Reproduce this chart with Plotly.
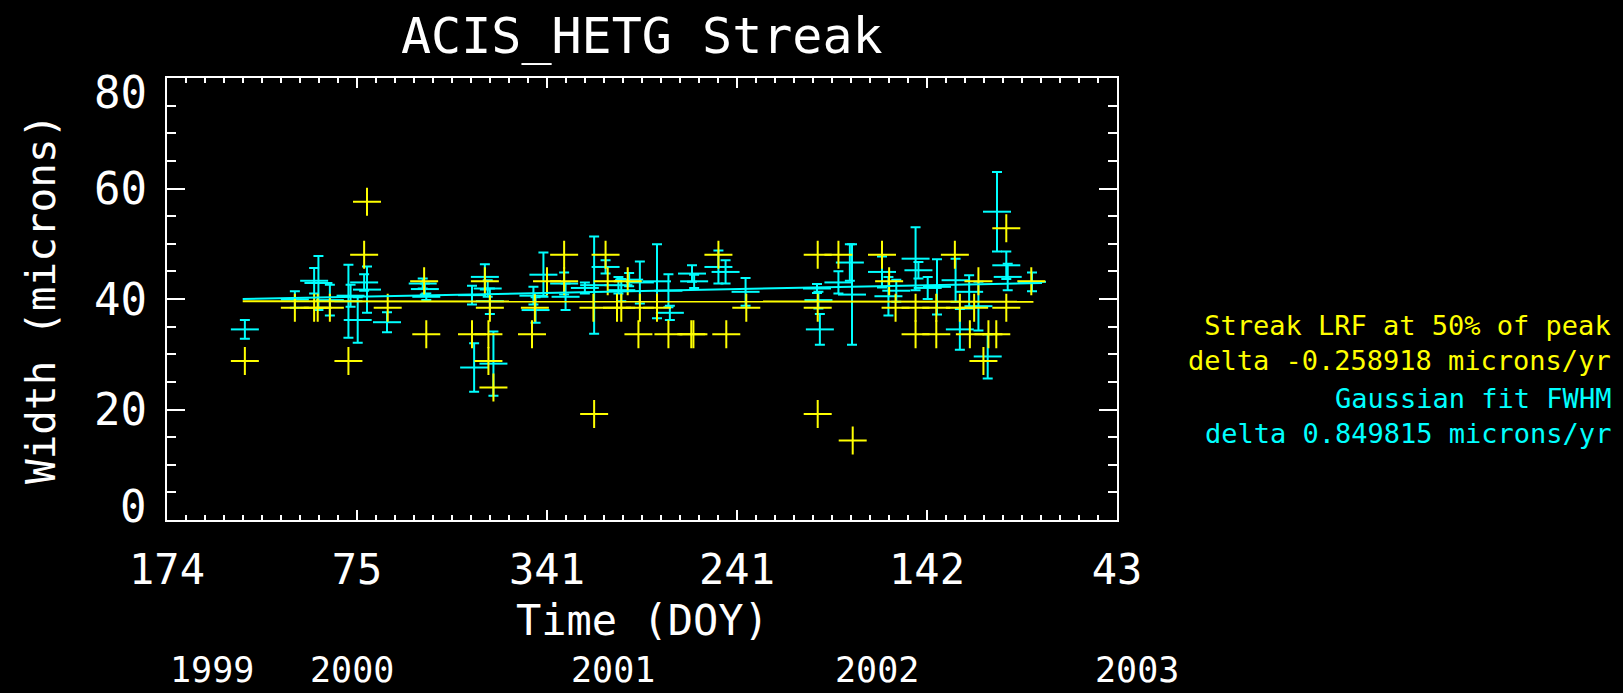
import plotly.graph_objects as go

# ---------------- data ----------------
chart_title = "ACIS_HETG Streak"
x_title = "Time (DOY)"
y_title = "Width (microns)"

# x axis: days elapsed since 1999 DOY 174
doy_tick_days = [0, 266, 532, 798, 1064, 1330]
doy_tick_labels = ["174", "75", "341", "241", "142", "43"]
year_labels = ["1999", "2000", "2001", "2002", "2003"]
year_label_days = [63, 259, 624, 994, 1358]

y_tick_vals = [0, 20, 40, 60, 80]
y_tick_labels = ["0", "20", "40", "60", "80"]

# Streak LRF at 50% of peak (yellow crosses)
lrf_days = [109, 179, 206, 211, 228, 254, 276, 280, 309, 360, 363, 427, 445, 450,
            450, 452, 457, 511, 515, 532, 556, 556, 597, 598, 614, 617, 630, 636,
            645, 660, 662, 686, 702, 734, 737, 772, 783, 811, 911, 911, 911, 940,
            960, 1001, 1011, 1020, 1048, 1048, 1077, 1077, 1103, 1110, 1124, 1130,
            1136, 1143, 1150, 1161, 1175, 1175, 1210]
lrf_width = [28.8, 38.4, 38.4, 38.4, 38.4, 28.8, 48.0, 57.6, 38.4, 43.2, 33.6, 33.6, 43.2, 33.6,
             28.8, 38.4, 24.0, 33.6, 38.4, 43.2, 48.0, 43.2, 38.4, 19.2, 48.0, 43.2, 38.4, 38.4,
             43.2, 33.6, 38.4, 38.4, 33.6, 33.6, 33.6, 48.0, 33.6, 38.4, 48.0, 38.4, 19.2, 48.0,
             14.4, 48.0, 43.2, 38.4, 38.4, 33.6, 38.4, 33.6, 48.0, 38.4, 33.6, 38.4,
             43.2, 28.8, 33.6, 33.6, 52.8, 38.4, 43.2]

# Gaussian fit FWHM (cyan, with error bars)
fwhm_days = [109, 179, 206, 212, 228, 254, 257, 267, 276, 280, 308, 358, 361, 363,
             427, 430, 445, 449, 452, 457, 513, 516, 527, 556, 558, 585, 598, 614,
             632, 636, 647, 662, 686, 702, 704, 735, 738, 772, 782, 810, 910, 912,
             914, 940, 956, 959, 1001, 1010, 1021, 1048, 1052, 1065, 1078, 1104, 1110,
             1123, 1136, 1149, 1162, 1175, 1177, 1211]
fwhm_width = [34.5, 39.9, 43.3, 42.9, 39.8, 39.6, 40.6, 36.2, 43.0, 41.7, 35.8, 42.8, 41.8, 40.4,
              40.7, 27.6, 44.0, 41.9, 39.6, 28.3, 40.6, 38.0, 44.4, 42.8, 40.4, 42.0, 42.5, 45.8,
              42.5, 41.6, 43.5, 43.0, 43.2, 41.5, 37.5, 44.6, 43.2, 45.8, 44.9, 41.3, 41.9, 39.8,
              34.5, 43.0, 46.6, 40.8, 44.9, 40.5, 41.5, 47.3, 45.2, 42.0, 42.2, 43.4, 34.5,
              41.3, 38.7, 29.6, 55.8, 46.1, 44.0, 43.1]
fwhm_err = [1.7, 1.5, 2.3, 4.9, 2.8, 6.6, 2.0, 4.1, 1.5, 4.2, 1.8, 0.9, 1.0, 0.6,
            1.7, 4.4, 2.3, 1.5, 2.3, 5.8, 1.6, 2.3, 4.0, 2.0, 2.4, 1.0, 8.8, 1.2,
            1.5, 2.0, 1.2, 3.8, 6.7, 3.0, 1.3, 1.5, 1.2, 3.0, 2.1, 2.5, 0.8, 1.5,
            2.8, 2.0, 3.3, 9.1, 2.8, 3.5, 2.0, 5.7, 1.5, 2.0, 5.0, 3.9, 3.7,
            3.0, 4.4, 4.0, 7.2, 2.5, 2.4, 1.7]

# linear fits
lrf_fit_days = [106, 1213]
lrf_fit_width = [39.6, 39.5]
fwhm_fit_days = [106, 1225]
fwhm_fit_width = [40.0, 42.9]

lrf_legend = ["Streak LRF at 50% of peak", "delta -0.258918 microns/yr"]
fwhm_legend = ["Gaussian fit FWHM", "delta 0.849815 microns/yr"]

# ---------------- style ----------------
YEL = "#FFFF00"
CYA = "#00FFFF"
WHITE = "#FFFFFF"
FONT = "DejaVu Sans Mono"

W, H = 1623, 693
L, R, T, B = 167, 1117, 78, 520
X_MAX = doy_tick_days[-1]

fig = go.Figure()

fig.add_trace(go.Scatter(
    x=fwhm_days, y=fwhm_width, mode="markers",
    marker=dict(symbol="line-ew", size=20, line=dict(color=CYA, width=2), color=CYA),
    error_y=dict(type="data", array=fwhm_err, color=CYA, thickness=2, width=5),
    showlegend=False, hoverinfo="skip"))

fig.add_trace(go.Scatter(
    x=lrf_days, y=lrf_width, mode="markers",
    marker=dict(symbol="cross-thin", size=20, line=dict(color=YEL, width=2), color=YEL),
    showlegend=False, hoverinfo="skip"))

fig.add_trace(go.Scatter(x=lrf_fit_days, y=lrf_fit_width, mode="lines",
                         line=dict(color=YEL, width=2), showlegend=False, hoverinfo="skip"))
fig.add_trace(go.Scatter(x=fwhm_fit_days, y=fwhm_fit_width, mode="lines",
                         line=dict(color=CYA, width=2), showlegend=False, hoverinfo="skip"))

axis_common = dict(showgrid=False, zeroline=False, showline=True, linecolor=WHITE,
                   linewidth=2, mirror="allticks", ticks="inside", tickcolor=WHITE,
                   tickwidth=2)

fig.update_xaxes(range=[0, X_MAX], tickmode="array", tickvals=doy_tick_days,
                 ticktext=doy_tick_labels, ticklen=10, ticklabelstandoff=12,
                 tickfont=dict(family=FONT, size=42, color=WHITE),
                 minor=dict(dtick=26.6, tick0=0, ticklen=5, ticks="inside",
                            tickcolor=WHITE, tickwidth=2, showgrid=False),
                 **axis_common)
fig.update_yaxes(range=[0, 80], tickmode="array", tickvals=y_tick_vals,
                 ticktext=y_tick_labels, showticklabels=False, ticklen=18,
                 minor=dict(dtick=5, tick0=0, ticklen=9, ticks="inside",
                            tickcolor=WHITE, tickwidth=2, showgrid=False),
                 **axis_common)

def px(xp):
    return (xp - L) / (R - L)

def py(yp):
    return (B - yp) / (B - T)

ann = []
ann.append(dict(text=chart_title, x=0.5, y=py(36), xref="paper", yref="paper",
                xanchor="center", yanchor="middle", showarrow=False,
                font=dict(family=FONT, size=50, color=WHITE)))
ann.append(dict(text=x_title, x=0.5, y=py(620), xref="paper", yref="paper",
                xanchor="center", yanchor="middle", showarrow=False,
                font=dict(family=FONT, size=42, color=WHITE)))
ann.append(dict(text=y_title, x=px(41), y=0.5, xref="paper", yref="paper",
                xanchor="center", yanchor="middle", showarrow=False, textangle=-90,
                font=dict(family=FONT, size=41, color=WHITE)))
# y tick labels (IDL style: end labels nudged inward)
n_y = len(y_tick_vals)
for i, (v, lab) in enumerate(zip(y_tick_vals, y_tick_labels)):
    shift = 0
    if i == 0:
        shift = 14
    elif i == n_y - 1:
        shift = -14
    ann.append(dict(text=lab, x=px(149), y=v, xref="paper", yref="y",
                    xanchor="right", yanchor="middle", showarrow=False, yshift=shift,
                    font=dict(family=FONT, size=44, color=WHITE)))
for lab, d in zip(year_labels, year_label_days):
    ann.append(dict(text=lab, x=d / X_MAX, y=py(670), xref="paper", yref="paper",
                    xanchor="center", yanchor="middle", showarrow=False,
                    font=dict(family=FONT, size=35, color=WHITE)))
ann.append(dict(text="<br>".join(lrf_legend), x=px(1613), y=py(343), xref="paper",
                yref="paper", xanchor="right", yanchor="middle", align="right",
                showarrow=False, font=dict(family=FONT, size=27, color=YEL)))
ann.append(dict(text="<br>".join(fwhm_legend), x=px(1613), y=py(416), xref="paper",
                yref="paper", xanchor="right", yanchor="middle", align="right",
                showarrow=False, font=dict(family=FONT, size=27, color=CYA)))

fig.update_layout(width=W, height=H, paper_bgcolor="black", plot_bgcolor="black",
                  margin=dict(l=L, r=W - R, t=T, b=H - B, pad=0),
                  annotations=ann, showlegend=False)

fig.write_html("out.html", config={"displayModeBar": False},
               post_script="document.body.style.margin='0';"
                           "document.body.style.background='black';")
